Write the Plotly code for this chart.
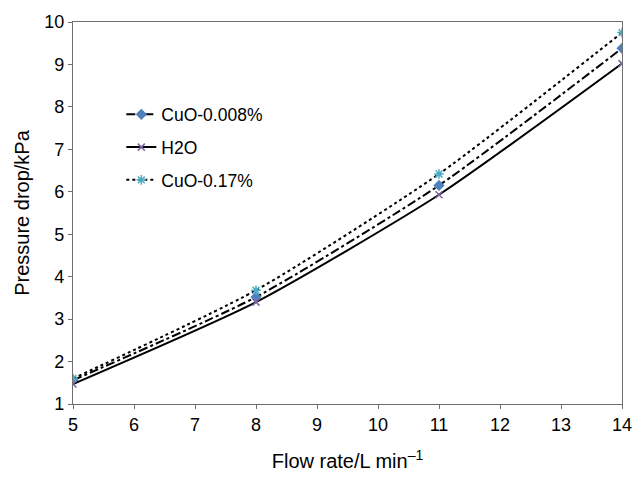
import plotly.graph_objects as go

# Flow rate (L/min) and measured pressure drop (kPa)
flow_rate = [5, 8, 11, 14]
cuo_0008 = [1.56, 3.52, 6.15, 9.38]
h2o = [1.47, 3.40, 5.93, 9.02]
cuo_017 = [1.60, 3.68, 6.42, 9.75]

x_ticks = list(range(5, 15))
y_ticks = list(range(1, 11))

FONT = "Liberation Sans, Arial, Helvetica, sans-serif"

series = [
    ("CuO-0.008%", cuo_0008, "dashdot", "diamond", "#4F81BD", 7),
    ("H2O", h2o, "solid", "x-thin", "#8064A2", 7),
    ("CuO-0.17%", cuo_017, "dot", "asterisk", "#4BACC6", 8),
]

fig = go.Figure()
for i, (name, vals, dash, symbol, color, size) in enumerate(series):
    fig.add_trace(go.Scatter(
        x=flow_rate, y=vals, name=name, mode="lines+markers",
        line=dict(color="black", width=2, dash=dash, shape="spline", smoothing=0.6),
        marker=dict(symbol=symbol, color=color, size=size,
                    line=dict(color=color, width=1.5)),
        legendgroup=f"g{i}",
    ))

axis_common = dict(
    showgrid=False, zeroline=False, showline=True, mirror=True,
    linecolor="#6e6e6e", linewidth=1.2, ticks="outside", ticklen=4,
    tickcolor="#6e6e6e", tickfont=dict(family=FONT, size=18, color="black"),
)

fig.update_xaxes(range=[5, 14], tickvals=x_ticks,
                 title=dict(text="Flow rate/L min<sup>\u20131</sup>",
                            font=dict(family=FONT, size=20, color="black"), standoff=20),
                 **axis_common)
fig.update_yaxes(range=[1, 10], tickvals=y_ticks,
                 title=dict(text="Pressure drop/kPa",
                            font=dict(family=FONT, size=20, color="black"), standoff=9),
                 **axis_common)

fig.update_layout(
    width=644, height=481,
    margin=dict(l=73, r=18, t=17, b=65),
    paper_bgcolor="white", plot_bgcolor="white",
    font=dict(family=FONT, size=18, color="black"),
    legend=dict(x=0.088, y=0.805, xanchor="left", yanchor="top",
                bgcolor="rgba(0,0,0,0)", tracegroupgap=7, itemwidth=30,
                font=dict(family=FONT, size=17.5, color="black")),
)

fig.write_html("out.html")
